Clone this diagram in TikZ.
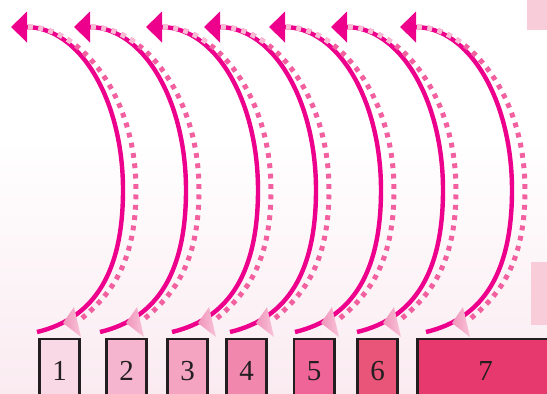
\documentclass[tikz,border=0pt]{standalone}
\usepackage{fontspec}
\setmainfont{Liberation Serif}
\usetikzlibrary{arrows.meta}

\definecolor{arcmag}{HTML}{EC008C}
\definecolor{dotpink}{HTML}{F2609F}
\definecolor{dotlight}{HTML}{F8BCD4}
\definecolor{tipa}{HTML}{F9C4D8}
\definecolor{tipb}{HTML}{EF93B9}
\definecolor{bgpink}{HTML}{FAEBF1}
\definecolor{sidepink}{HTML}{F8CDD9}
\definecolor{boxline}{HTML}{231F20}
\definecolor{shadeA}{HTML}{FAD9E6}
\definecolor{shadeB}{HTML}{F6B5CE}
\definecolor{shadeC}{HTML}{F4A3C0}
\definecolor{shadeD}{HTML}{F287AD}
\definecolor{shadeE}{HTML}{EF6598}
\definecolor{shadeF}{HTML}{E95578}
\definecolor{shadeG}{HTML}{E8396E}

\begin{document}
\begin{tikzpicture}[x=0.5pt, y=-0.5pt, font=\fontsize{14.5}{16}\selectfont]
  \tikzset{
    bendline/.style={line width=2.2pt, arcmag, -{Triangle[length=8pt,width=15pt]}},
    dotline/.style={line width=2.5pt, dotpink, dash pattern=on 2.4pt off 2.8pt},
    toplight/.style={dotline, dotlight},
    cell/.style={draw=boxline, line width=1.3pt, minimum width=20.2pt,
      minimum height=45pt, anchor=north, inner sep=0pt, text=boxline,
      text height=10pt, text depth=13.5pt}
  }

  % Canvas
  \useasboundingbox (0,0) rectangle (547,393);
  \clip (0,0) rectangle (547,393);
  \fill[white] (0,0) rectangle (547,393);
  \shade[top color=white, bottom color=bgpink] (0,140) rectangle (547,393);

  % Side strips
  \fill[sidepink] (527,0) rectangle (547,30);
  \fill[sidepink] (531,262) rectangle (547,325);

  % Stages
  \node[cell, fill=shadeA] (box1) at (59.5,337.5) {1};
  \node[cell, fill=shadeB] (box2) at (126.5,337.5) {2};
  \node[cell, fill=shadeC] (box3) at (187.5,337.5) {3};
  \node[cell, fill=shadeD] (box4) at (246.5,337.5) {4};
  \node[cell, fill=shadeE] (box5) at (314,337.5) {5};
  \node[cell, fill=shadeF] (box6) at (377.5,337.5) {6};
  \node[cell, fill=shadeG, minimum width=68.2pt] (box7) at (485.5,337.5) {7};

  % Loops
  \foreach \s [count=\i] in {37,100,172,230,295,357,426} {
    \begin{scope}[shift={(\s,0)}]
      \coordinate (lo\i)   at (0,332);
      \coordinate (mid\i)  at (86,190);
      \coordinate (tip\i)  at (-26,27);
      \coordinate (dtop\i) at (-9,27);
      \coordinate (dmid\i) at (99,190);
      \coordinate (dend\i) at (44,319);

      \draw[bendline] (lo\i) .. controls +(59,-14) and +(0,80) .. (mid\i)
        .. controls +(0,-90) and +(69,0) .. (tip\i);
      \draw[dotline] (dtop\i) .. controls +(52,0) and +(0,-95) .. (dmid\i)
        .. controls +(0,75) and +(28,-23) .. (dend\i);
      \draw[toplight] (dtop\i) .. controls +(15.6,0) and +(-14.7,-11.1) .. +(46.3,17.3);
      \shade[left color=tipb, right color=tipa] (37,307) -- (26,323) -- (44,337) -- cycle;
    \end{scope}
  }

\end{tikzpicture}
\end{document}
